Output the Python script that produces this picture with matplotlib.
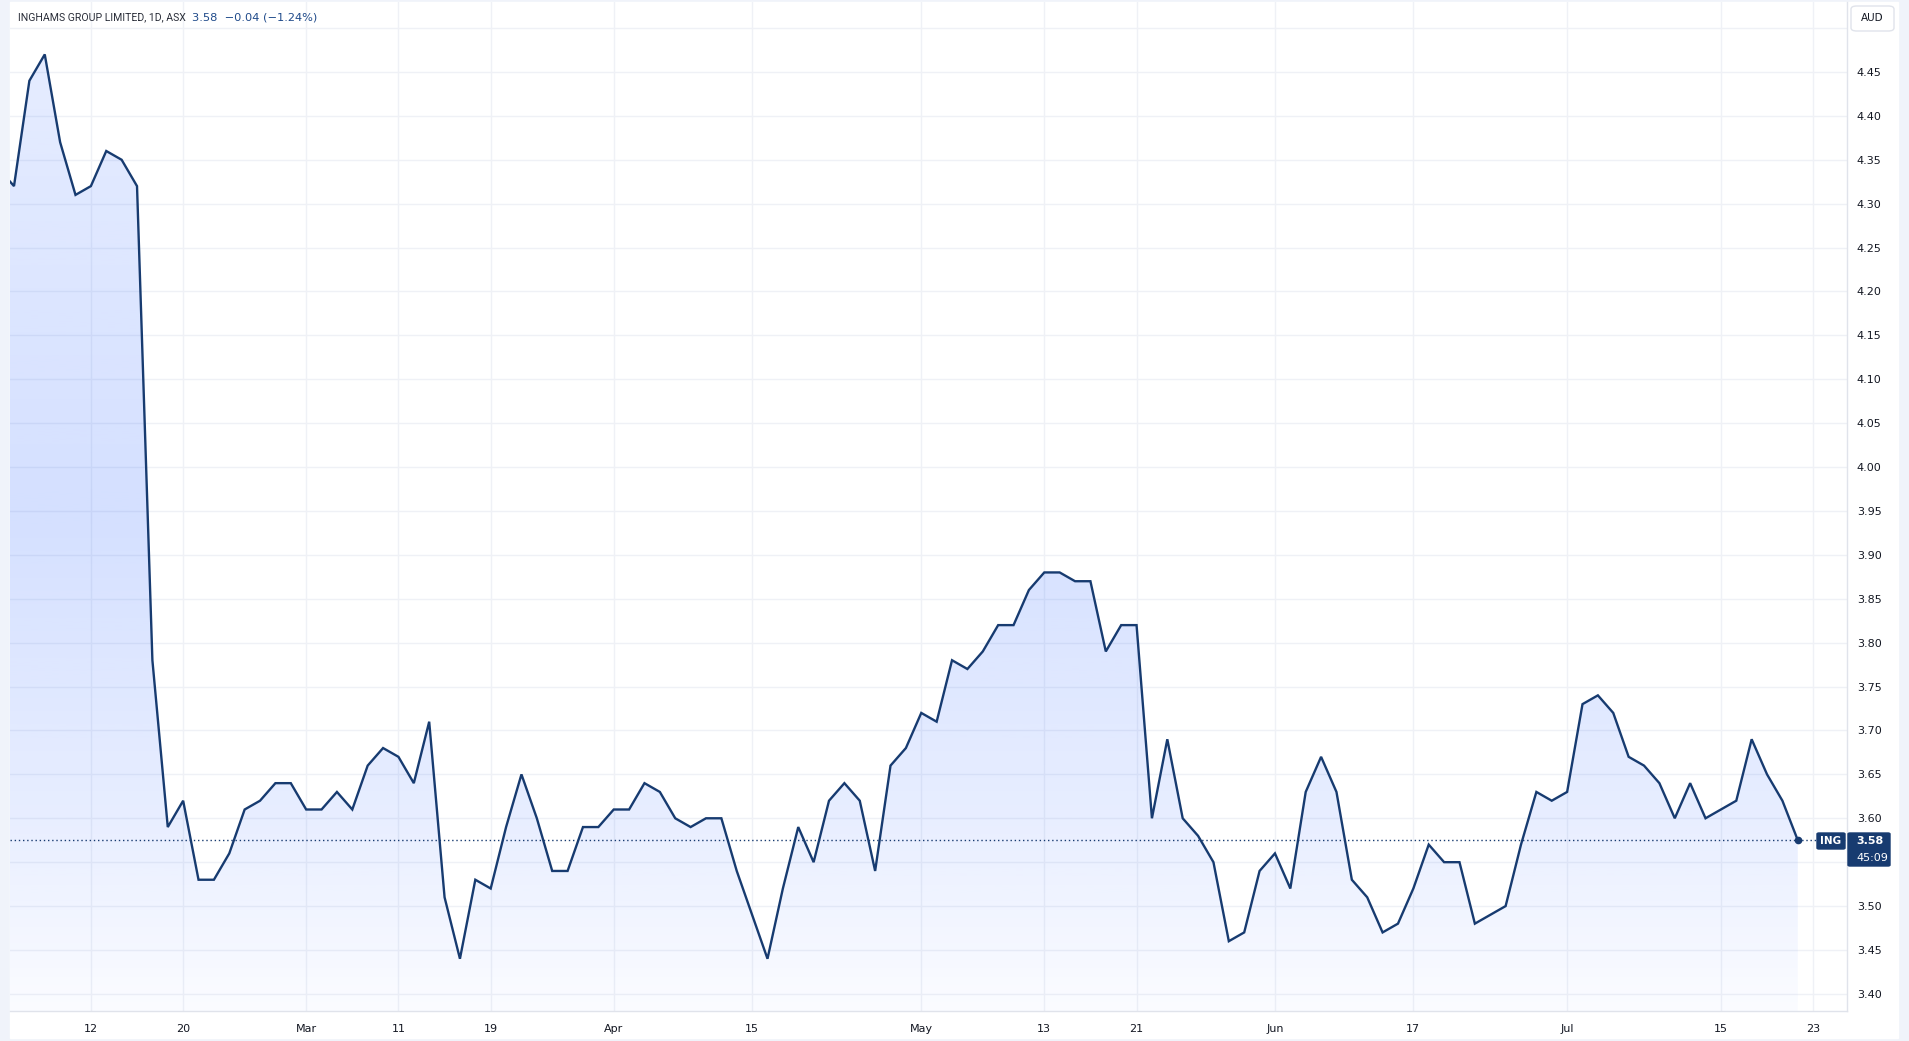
"""
INGHAMS GROUP LIMITED (ASX:ING), дневной график, фев - июл 2024
Площадной график в стиле TradingView
"""
import numpy as np
import pandas as pd
import matplotlib.pyplot as plt
from matplotlib.patches import Polygon, FancyBboxPatch


"""Данные: торговые дни ASX и цены закрытия"""
asx_holidays = ["2024-03-29", "2024-04-01", "2024-04-25", "2024-06-10"]
dates = pd.bdate_range("2024-02-02", "2024-07-22", freq="C", holidays=asx_holidays)

close = [4.34,
         4.32, 4.44, 4.47, 4.37, 4.31, 4.32, 4.36, 4.35, 4.32, 3.78,
         3.59, 3.62, 3.53, 3.53, 3.56, 3.61, 3.62, 3.64, 3.64, 3.61,
         3.61, 3.63, 3.61, 3.66, 3.68, 3.67, 3.64, 3.71, 3.51, 3.44,
         3.53, 3.52, 3.59, 3.65, 3.60, 3.54, 3.54, 3.59, 3.59, 3.61,
         3.61, 3.64, 3.63, 3.60, 3.59, 3.60, 3.60, 3.54, 3.49, 3.44,
         3.52, 3.59, 3.55, 3.62, 3.64, 3.62, 3.54, 3.66, 3.68, 3.72,
         3.71, 3.78, 3.77, 3.79, 3.82, 3.82, 3.86, 3.88, 3.88, 3.87,
         3.87, 3.79, 3.82, 3.82, 3.60, 3.69, 3.60, 3.58, 3.55, 3.46,
         3.47, 3.54, 3.56, 3.52, 3.63, 3.67, 3.63, 3.53, 3.51, 3.47,
         3.48, 3.52, 3.57, 3.55, 3.55, 3.48, 3.49, 3.50, 3.57, 3.63,
         3.62, 3.63, 3.73, 3.74, 3.72, 3.67, 3.66, 3.64, 3.60, 3.64,
         3.60, 3.61, 3.62, 3.69, 3.65, 3.62, 3.575]

tick_dates = ["2024-02-12", "2024-02-20", "2024-03-01", "2024-03-11", "2024-03-19",
              "2024-04-02", "2024-04-15", "2024-05-01", "2024-05-13", "2024-05-21",
              "2024-06-03", "2024-06-17", "2024-07-01", "2024-07-15", "2024-07-23"]
tick_labels = ["12", "20", "Mar", "11", "19", "Apr", "15", "May", "13", "21",
               "Jun", "17", "Jul", "15", "23"]
price_ticks = np.round(np.arange(3.40, 4.451, 0.05), 2)

title = "INGHAMS GROUP LIMITED, 1D, ASX"
quote = "3.58  \u22120.04 (\u22121.24%)"
countdown = "45:09"


"""Индексы баров (ось X у TradingView - по барам, без выходных)"""
# первый бар (2 фев) - индекс -1, он уходит за левый край
xs = np.arange(len(close)) - 1
ys = np.array(close)
pos = {d.strftime("%Y-%m-%d"): i - 1 for i, d in enumerate(dates)}
# 23 июля еще нет в данных - следующий бар после последнего
pos["2024-07-23"] = xs[-1] + 1
tick_x = [pos[d] for d in tick_dates]

W, H = 1909, 1041
NAVY = "#173b70"
GRID = "#eff1f6"
TXT = "#131722"

fig = plt.figure(figsize=(W / 100, H / 100), dpi=100)
fig.patch.set_facecolor("#f0f3fa")
px = lambda x: x / W
py = lambda y: 1 - y / H

# белая подложка всего виджета
fig.patches.append(plt.Rectangle((px(10), py(1038)), px(1888), (1038 - 2) / H,
                                 transform=fig.transFigure, color="white", zorder=-1))

ax = fig.add_axes([px(10), py(1011), px(1847 - 10), (1011 - 2) / H])
ax.set_facecolor("white")
x0, x1 = -0.26, 119.2
y0, y1 = 3.3805, 4.5297
ax.set_xlim(x0, x1)
ax.set_ylim(y0, y1)

for v in price_ticks:
    ax.axhline(v, color=GRID, lw=1, zorder=0)
ax.axhline(4.50, color=GRID, lw=1, zorder=0)
for t in tick_x:
    ax.axvline(t, color=GRID, lw=1, zorder=0)

"""Градиентная заливка под линией"""
verts = [(xs[0], y0)] + list(zip(xs, ys)) + [(xs[-1], y0)]
clip = Polygon(verts, closed=True, facecolor="none", edgecolor="none")
ax.add_patch(clip)
gy = np.linspace(y0, ys.max(), 300)
alpha = np.interp(gy, [y0, 3.60, 3.95, 4.47], [0.02, 0.11, 0.20, 0.12])
grad = np.zeros((len(gy), 1, 4))
grad[..., 0] = 41 / 255
grad[..., 1] = 98 / 255
grad[..., 2] = 1.0
grad[:, 0, 3] = alpha
im = ax.imshow(grad, extent=[xs[0], xs[-1], y0, ys.max()], origin="lower",
               aspect="auto", zorder=1, interpolation="bilinear")
im.set_clip_path(clip)

ax.plot(xs, ys, color=NAVY, lw=1.7, zorder=3, solid_joinstyle="miter")
ax.plot(xs[-1], ys[-1], "o", color=NAVY, ms=4.5, zorder=4)
ax.axhline(ys[-1], color=NAVY, lw=1, ls=(0, (1, 2)), zorder=2)

ax.set_xticks(tick_x)
ax.set_xticklabels(tick_labels)
ax.yaxis.tick_right()
ax.set_yticks(price_ticks)
# 3.55 закрыта плашкой последней цены
ax.set_yticklabels(["" if abs(v - 3.55) < 1e-6 else f"{v:.2f}" for v in price_ticks])
ax.tick_params(axis="both", length=0, labelsize=8, labelcolor=TXT)
ax.tick_params(axis="x", pad=9)
ax.tick_params(axis="y", pad=7)
for lab in ax.get_yticklabels():
    lab.set_horizontalalignment("left")
for s in ["top", "left"]:
    ax.spines[s].set_visible(False)
for s in ["right", "bottom"]:
    ax.spines[s].set_color("#e0e3eb")
    ax.spines[s].set_linewidth(1)

"""Заголовок"""
t1 = fig.text(px(18), py(17), title, fontsize=7.6, color="#2a2e39", va="center",
              family="Roboto")
fig.canvas.draw()
bb = t1.get_window_extent()
fig.text(bb.x1 / W + px(6), py(17), quote, fontsize=8.2, color="#1f4a8a", va="center")

"""Кнопка валюты"""
fig.patches.append(FancyBboxPatch((px(1851), py(31)), px(43), 25 / H,
                                  boxstyle="round,pad=0,rounding_size=0.003",
                                  transform=fig.transFigure, facecolor="white",
                                  edgecolor="#e0e3eb", lw=1))
fig.text(px(1872), py(18), "AUD", fontsize=7.5, color=TXT, ha="center", va="center")

"""Метки последней цены"""
fig.patches.append(FancyBboxPatch((px(1817), py(849)), px(28), 16 / H,
                                  boxstyle="round,pad=0,rounding_size=0.001",
                                  transform=fig.transFigure, color=NAVY, zorder=5))
fig.text(px(1831), py(841), "ING", fontsize=7.5, color="white", fontweight="bold",
         ha="center", va="center", zorder=6)
fig.patches.append(FancyBboxPatch((px(1848), py(866)), px(42), 33 / H,
                                  boxstyle="round,pad=0,rounding_size=0.001",
                                  transform=fig.transFigure, color=NAVY, zorder=5))
fig.text(px(1856), py(841), f"{ys[-1] + 0.0001:.2f}", fontsize=8, color="white",
         fontweight="bold", ha="left", va="center", zorder=6)
fig.text(px(1856), py(858), countdown, fontsize=8, color="white",
         ha="left", va="center", zorder=6)

plt.savefig("out.png", dpi=100, facecolor=fig.get_facecolor())
